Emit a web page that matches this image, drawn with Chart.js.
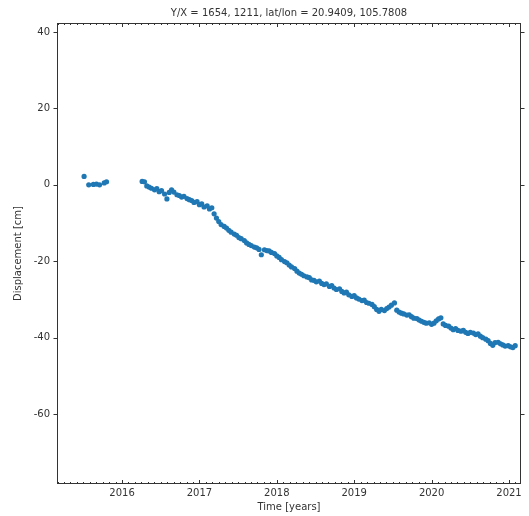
<!DOCTYPE html>
<html>
<head>
<meta charset="utf-8">
<script src="https://cdn.jsdelivr.net/npm/chart.js@4/dist/chart.umd.min.js"></script>
<style>
  html, body { margin: 0; padding: 0; background: #fff; }
  canvas { display: block; }
</style>
</head>
<body>
<canvas id="ts-chart" width="529" height="516"></canvas>
<script>
// decimal years and displacement (cm)
const dates = [
  2015.51, 2015.57, 2015.63, 2015.67, 2015.71, 2015.77, 2015.80,
  2016.26, 2016.29, 2016.32, 2016.35, 2016.38, 2016.42, 2016.45, 2016.48, 2016.51, 2016.55,
  2016.58, 2016.61, 2016.64, 2016.67, 2016.71, 2016.74, 2016.77, 2016.80, 2016.84, 2016.87,
  2016.90, 2016.93, 2016.97, 2017.00, 2017.03, 2017.06, 2017.10, 2017.13, 2017.16, 2017.19,
  2017.22, 2017.25, 2017.28, 2017.32, 2017.35, 2017.38, 2017.41, 2017.45, 2017.48, 2017.51,
  2017.54, 2017.58, 2017.61, 2017.64, 2017.67, 2017.71, 2017.74, 2017.77, 2017.80, 2017.84,
  2017.87, 2017.90, 2017.93, 2017.97, 2018.00, 2018.03, 2018.06, 2018.10, 2018.13, 2018.16,
  2018.19, 2018.23, 2018.26, 2018.29, 2018.32, 2018.35, 2018.39, 2018.42, 2018.45, 2018.48,
  2018.51, 2018.55, 2018.58, 2018.61, 2018.64, 2018.68, 2018.71, 2018.74, 2018.77, 2018.81,
  2018.84, 2018.87, 2018.90, 2018.93, 2018.97, 2019.00, 2019.03, 2019.06, 2019.10, 2019.13,
  2019.16, 2019.19, 2019.23, 2019.26, 2019.29, 2019.32, 2019.35, 2019.39, 2019.42, 2019.45,
  2019.48, 2019.52, 2019.55, 2019.58, 2019.61, 2019.64, 2019.68, 2019.71, 2019.74, 2019.77,
  2019.81, 2019.84, 2019.87, 2019.90, 2019.93, 2019.97, 2020.00, 2020.03, 2020.06, 2020.09,
  2020.12, 2020.15, 2020.18, 2020.22, 2020.25, 2020.28, 2020.31, 2020.34, 2020.38, 2020.41,
  2020.44, 2020.47, 2020.50, 2020.54, 2020.57, 2020.60, 2020.63, 2020.66, 2020.70, 2020.73,
  2020.76, 2020.79, 2020.82, 2020.86, 2020.89, 2020.92, 2020.95, 2020.99, 2021.02, 2021.05,
  2021.08
];
const disp = [
  2.2, 0.0, 0.1, 0.2, 0.0, 0.5, 0.8,
  0.9, 0.8, -0.3, -0.6, -0.9, -1.3, -1.0, -1.8, -1.5, -2.4,
  -3.7, -2.0, -1.3, -1.9, -2.6, -2.8, -3.2, -3.0, -3.6, -3.9,
  -4.1, -4.6, -4.4, -5.2, -5.0, -5.8, -5.5, -6.3, -6.0, -7.6,
  -8.7, -9.6, -10.4, -10.9, -11.3, -11.9, -12.4, -12.9, -13.2, -13.8,
  -14.1, -14.6, -15.2, -15.6, -15.9, -16.3, -16.5, -16.9, -18.3, -17.0,
  -17.2, -17.3, -17.7, -18.0, -18.6, -19.0, -19.6, -20.1, -20.4, -21.0,
  -21.5, -21.9, -22.6, -23.1, -23.4, -23.8, -24.1, -24.3, -24.9, -25.0,
  -25.4, -25.2, -25.8, -26.1, -25.9, -26.6, -26.4, -27.0, -27.4, -27.2,
  -27.9, -28.3, -28.1, -28.8, -29.2, -29.0, -29.6, -29.9, -30.3, -30.2,
  -30.8, -31.0, -31.3, -31.9, -32.6, -33.1, -32.6, -32.9, -32.4, -32.0,
  -31.5, -30.9, -32.8, -33.3, -33.6, -33.8, -34.1, -34.0, -34.5, -34.9,
  -35.0, -35.4, -35.7, -36.0, -36.2, -36.1, -36.5, -36.2, -35.6, -35.1,
  -34.8, -36.4, -36.8, -37.0, -37.5, -37.9, -37.6, -38.1, -38.3, -38.1,
  -38.6, -38.9, -38.6, -38.8, -39.2, -39.0, -39.6, -40.0, -40.4, -40.8,
  -41.5, -42.0, -41.3, -41.2, -41.6, -41.9, -42.2, -42.1, -42.4, -42.6,
  -42.1
];

const xTicks = [2016, 2017, 2018, 2019, 2020, 2021];
const yTicks = [-60, -40, -20, 0, 20, 40];
const xRange = [2015.16, 2021.155];
const yRange = [-78.3, 42.35];

const font = "'DejaVu Sans', sans-serif";
const ink = "#333";

// matplotlib-like frame: box, y ticks out, x ticks in (with monthly minors)
const frame = {
  id: "frame",
  afterDraw(chart) {
    const { ctx, chartArea: a, scales } = chart;
    ctx.save();
    ctx.strokeStyle = ink;
    ctx.lineWidth = 1;
    ctx.strokeRect(Math.round(a.left) + 0.5, Math.round(a.top) + 0.5,
      Math.round(a.right - a.left) - 1, Math.round(a.bottom - a.top) - 1);
    ctx.beginPath();
    yTicks.forEach(v => {
      const y = Math.round(scales.y.getPixelForValue(v)) + 0.5;
      ctx.moveTo(a.left - 3.5, y); ctx.lineTo(a.left, y);
      ctx.moveTo(a.right, y); ctx.lineTo(a.right + 3.5, y);
    });
    for (let m = Math.ceil(xRange[0] * 12); m <= xRange[1] * 12; m++) {
      const x = Math.round(scales.x.getPixelForValue(m / 12)) + 0.5;
      const len = m % 12 === 0 ? 4 : 2;
      ctx.moveTo(x, a.bottom); ctx.lineTo(x, a.bottom - len);
      ctx.moveTo(x, a.top); ctx.lineTo(x, a.top + len);
    }
    ctx.stroke();
    ctx.restore();
  }
};

new Chart(document.getElementById("ts-chart"), {
  type: "scatter",
  data: {
    datasets: [{
      data: dates.map((d, i) => ({ x: d, y: disp[i] })),
      backgroundColor: "#1f77b4",
      borderWidth: 0,
      pointRadius: 2.6
    }]
  },
  options: {
    responsive: false,
    animation: false,
    layout: { padding: { left: 0, right: 8, top: 0, bottom: 0 } },
    plugins: {
      legend: { display: false },
      tooltip: { enabled: false },
      title: {
        display: true,
        fullSize: false,
        text: "Y/X = 1654, 1211, lat/lon = 20.9409, 105.7808",
        color: ink,
        font: { family: font, size: 10, weight: "normal" },
        padding: { top: 7, bottom: 4 }
      }
    },
    scales: {
      x: {
        type: "linear",
        min: xRange[0],
        max: xRange[1],
        afterBuildTicks: s => { s.ticks = xTicks.map(v => ({ value: v })); },
        afterFit: s => { s.height = 32; },
        grid: { display: false, drawTicks: false },
        border: { display: false },
        ticks: {
          color: ink,
          padding: 3,
          maxRotation: 0,
          font: { family: font, size: 10 },
          callback: v => String(v)
        },
        title: {
          display: true,
          text: "Time [years]",
          color: ink,
          font: { family: font, size: 10 },
          padding: { top: 0, bottom: 3 }
        }
      },
      y: {
        min: yRange[0],
        max: yRange[1],
        afterBuildTicks: s => { s.ticks = yTicks.map(v => ({ value: v })); },
        afterFit: s => { s.width = 57; },
        grid: { display: false, drawTicks: false },
        border: { display: false },
        ticks: {
          color: ink,
          padding: 7,
          font: { family: font, size: 10 },
          callback: v => String(v)
        },
        title: {
          display: true,
          text: "Displacement [cm]",
          color: ink,
          font: { family: font, size: 10 },
          padding: { top: 12, bottom: 0 }
        }
      }
    }
  },
  plugins: [frame]
});
</script>
</body>
</html>
